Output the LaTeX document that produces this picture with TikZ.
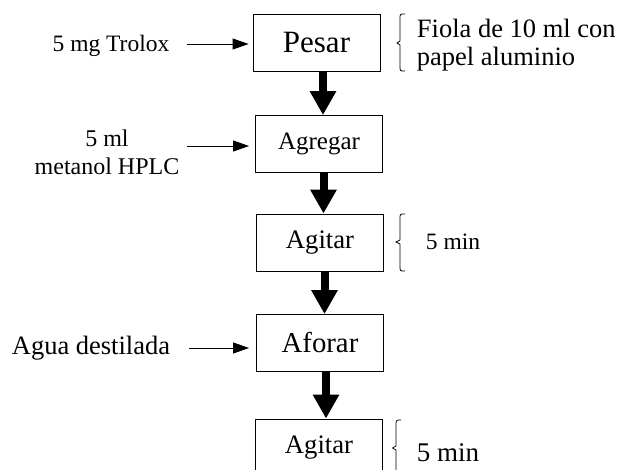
\documentclass[tikz,border=0pt]{standalone}
\usepackage{fontspec}
\setmainfont{Liberation Serif}
\usetikzlibrary{arrows.meta,calc}

\newcommand{\fs}[1]{\fontsize{#1}{#1}\selectfont}

\tikzset{
  stepbox/.style={draw, line width=0.9pt, minimum width=127pt, minimum height=57pt, inner sep=0pt},
  flow/.style={line width=8pt, -{Triangle[width=25pt,length=24pt]}},
  feed/.style={line width=0.9pt, -{Triangle[width=11pt,length=16pt]}},
  brk/.style={line width=0.8pt},
  lbl/.style={inner sep=0pt}
}

\begin{document}
\begin{tikzpicture}[x=1pt,y=-1pt]
  \useasboundingbox (0,0) rectangle (622,470);
  \clip (0,0) rectangle (622,470);

  % process steps
  \node[stepbox, font=\fs{31}] (pesar) at (316.5,42.5) {Pesar};
  \node[stepbox, font=\fs{25}] (agregar) at (319,144) {Agregar};
  \node[stepbox, font=\fs{26.7}] (agitar1) at (320,242.5) {Agitar};
  \node[stepbox, font=\fs{28.8}] (aforar) at (320,343) {Aforar};
  \node[stepbox, font=\fs{26.7}] (agitar2) at (319,447.5) {Agitar};

  % main flow
  \draw[flow] ($(pesar.south)+(6.5,0)$) -- ($(agregar.north)+(4,0)$);
  \draw[flow] ($(agregar.south)+(4.5,0)$) -- ($(agitar1.north)+(3.5,0)$);
  \draw[flow] ($(agitar1.south)+(4.5,0)$) -- ($(aforar.north)+(4.5,0)$);
  \draw[flow] ($(aforar.south)+(6,0)$) -- ($(agitar2.north)+(7,0)$);

  % inputs
  \node[lbl, anchor=base, font=\fs{23.5}] (trolox) at (111,52) {5 mg Trolox};
  \node[lbl, align=center, font=\fontsize{24}{28.5}\selectfont] (metanol) at (107,152.5) {5 ml\\metanol HPLC};
  \node[lbl, anchor=base, font=\fs{26.5}] (agua) at (91,354.5) {Agua destilada};

  \coordinate (t0) at (187,44);
  \coordinate (m0) at (187,146);
  \coordinate (a0) at (189,348);
  \draw[feed, shorten >=4pt] (t0) -- (t0 -| pesar.west);
  \draw[feed, shorten >=6pt] (m0) -- (m0 -| agregar.west);
  \draw[feed, shorten >=7pt] (a0) -- (a0 -| aforar.west);

  % side notes with brackets
  \draw[brk] (405,14) -- (402,14) to[out=180,in=90] (400,16.5) -- (400,41) -- (397,43) -- (400,45) -- (400,68.5) to[out=-90,in=180] (402,71) -- (405,71);
  \node[lbl, anchor=west, align=left, font=\fontsize{26.5}{27.5}\selectfont] (fiola) at (416.7,45) {Fiola de 10 ml con\\papel aluminio};

  \draw[brk] (405,214) -- (402,214) to[out=180,in=90] (400,216.5) -- (400,240) -- (396,242) -- (400,244) -- (400,268.5) to[out=-90,in=180] (402,271) -- (405,271);
  \node[lbl, anchor=base west, font=\fs{23.5}] (min1) at (425.7,250) {5 min};

  \draw[brk] (401,420) -- (398.5,420) to[out=180,in=90] (396,422.5) -- (396,446) -- (392.5,448) -- (396,450) -- (396,480);
  \node[lbl, anchor=base west, font=\fs{27}] (min2) at (416.7,462) {5 min};
\end{tikzpicture}
\end{document}
